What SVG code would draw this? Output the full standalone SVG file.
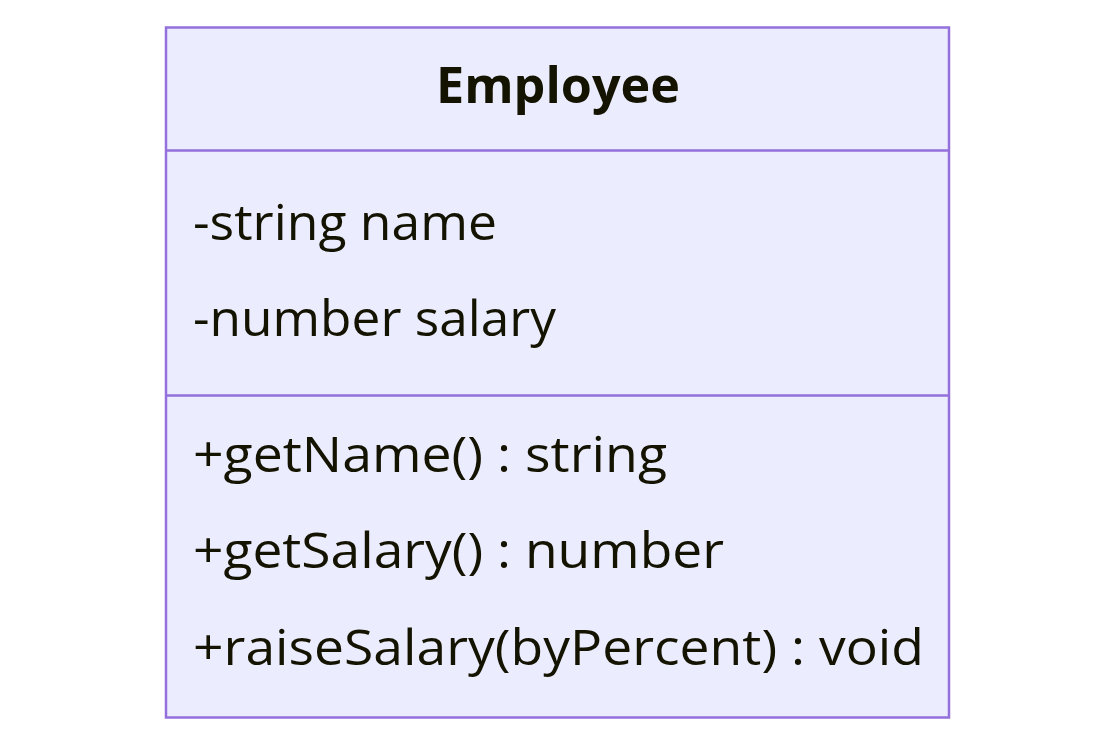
<svg xmlns="http://www.w3.org/2000/svg" width="1116" height="747" viewBox="0 0 1116 747">
<style>
.box{fill:#ECECFF;stroke:#9370DB;stroke-width:2.5}
.div{stroke:#9370DB;stroke-width:2.5}
text{font-family:"Open Sans","Liberation Sans",sans-serif;font-size:50px;fill:#131300}
.title{font-weight:bold;text-anchor:middle}
</style>
<rect width="1116" height="747" fill="#ffffff"/>
<g id="Employee">
<rect class="box" x="166" y="27.5" width="783" height="690"/>
<line class="div" x1="166" y1="150.5" x2="949" y2="150.5"/>
<line class="div" x1="166" y1="395.5" x2="949" y2="395.5"/>
<text class="title" x="558" y="103" textLength="244" lengthAdjust="spacingAndGlyphs">Employee</text>
<text x="193" y="240" textLength="304" lengthAdjust="spacingAndGlyphs">-string name</text>
<text x="193" y="336" textLength="363" lengthAdjust="spacingAndGlyphs">-number salary</text>
<text x="193" y="472" textLength="474" lengthAdjust="spacingAndGlyphs">+getName() : string</text>
<text x="193" y="568" textLength="531" lengthAdjust="spacingAndGlyphs">+getSalary() : number</text>
<text x="193" y="665" textLength="731" lengthAdjust="spacingAndGlyphs">+raiseSalary(byPercent) : void</text>
</g>
<g id="connectors"/>
</svg>
